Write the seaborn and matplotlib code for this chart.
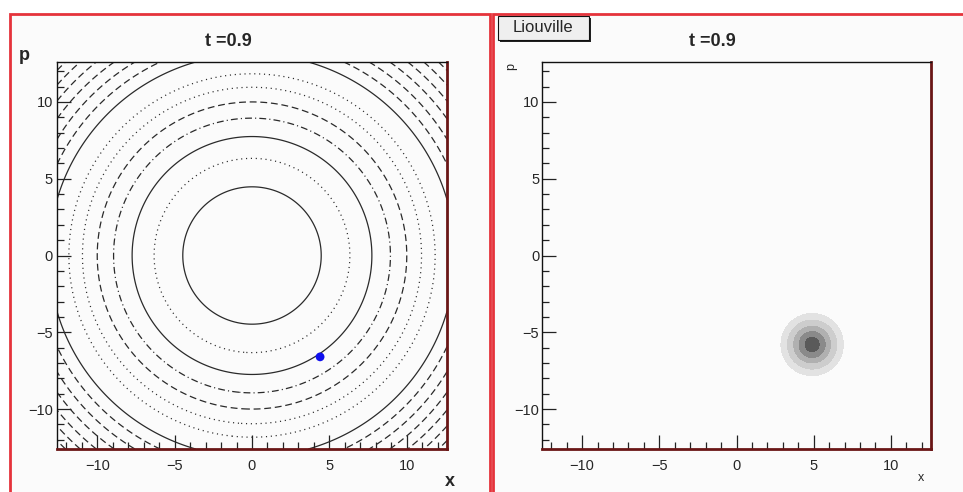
import numpy as np
import matplotlib
matplotlib.use("Agg")
import matplotlib.pyplot as plt
from matplotlib.patches import Rectangle
import seaborn as sns

sns.set_style("white")
plt.rcParams['font.family'] = ['Liberation Sans', 'DejaVu Sans']

# ---------------- data ----------------
title_text = "t =0.9"
xy_range = [-12.6, 12.6]
tick_values = [-10, -5, 0, 5, 10]
tick_labels = ["\u221210", "\u22125", "0", "5", "10"]

# energy levels H = (x^2 + p^2)/2 of the phase-space contours (left panel)
energy_levels = [10, 20, 30, 40, 50, 60, 70, 86, 97, 108, 119, 130, 141, 152]
level_styles = ["solid", "dot", "solid", "dashdot", "dash", "dot", "dot", "solid",
                "dash", "dash", "dash", "dash", "dash", "dash"]

# trajectory point (left) and Liouville density blob (right)
point_x = [4.4]
point_p = [-6.6]
blob_center = [4.9, -5.8]
blob_sigma = [1.0]
density_levels = [0.13, 0.28, 0.49, 0.70, 0.90, 1.01]
density_colors = ["#e2e2e2", "#cdcdcd", "#b0b0b0", "#8a8a8a", "#5a5a5a"]

# ---------------- figure ----------------
W, H = 963, 492
fig = plt.figure(figsize=(W / 100, H / 100), dpi=100)
fig.patch.set_facecolor("white")

def fx(px):
    return px / W

def fy(py):
    return 1 - py / H

pad_color = "#fbfbfb"
red = "#e5333b"
# pads
fig.add_artist(Rectangle((fx(10), fy(500)), fx(490 - 10), fy(14) - fy(500),
                         transform=fig.transFigure, fc=pad_color, ec=red, lw=2, zorder=-2))
fig.add_artist(Rectangle((fx(493), fy(500)), fx(980 - 493), fy(14) - fy(500),
                         transform=fig.transFigure, fc=pad_color, ec=red, lw=2, zorder=-2))

axL = fig.add_axes([fx(57), fy(449), fx(447 - 57), fy(62) - fy(449)])
axR = fig.add_axes([fx(542), fy(449), fx(931 - 542), fy(62) - fy(449)])

style_map = {
    "solid": "solid",
    "dot": (0, (0.9, 3.0)),
    "dash": (0, (5.5, 3.0)),
    "dashdot": (0, (5.5, 2.5, 0.9, 2.5)),
}

# left: energy contours
grid = np.linspace(xy_range[0], xy_range[1], 301)
X, P = np.meshgrid(grid, grid)
Hfield = 0.5 * (X ** 2 + P ** 2)
axL.contour(X, P, Hfield, levels=energy_levels, colors="#2a2a2a", linewidths=0.9,
            linestyles=[style_map[s] for s in level_styles])
sns.scatterplot(x=point_x, y=point_p, ax=axL, color="#1010ee", s=40,
                edgecolor="none", zorder=5, legend=False)

# right: Liouville density
dens = np.exp(-((X - blob_center[0]) ** 2 + (P - blob_center[1]) ** 2) / (2 * blob_sigma[0] ** 2))
axR.contourf(X, P, dens, levels=density_levels, colors=density_colors)

for ax, lab_pad in ((axL, 3), (axR, 2)):
    ax.set_facecolor(pad_color)
    ax.set_xlim(*xy_range)
    ax.set_ylim(*xy_range)
    ax.set_xticks(tick_values)
    ax.set_xticklabels(tick_labels)
    ax.set_yticks(tick_values)
    ax.set_yticklabels(tick_labels)
    ax.set_xticks(np.arange(-12, 13, 1), minor=True)
    ax.set_yticks(np.arange(-12, 13, 1), minor=True)
    ax.tick_params(which="major", direction="in", length=10, width=0.9, color="#222",
                   labelsize=10.5, bottom=True, left=True, top=False, right=False)
    ax.tick_params(which="minor", direction="in", length=5, width=0.9, color="#222",
                   bottom=True, left=True, top=False, right=False)
    ax.tick_params(axis="x", pad=7)
    ax.tick_params(axis="y", pad=lab_pad)
    for s in ("left", "top"):
        ax.spines[s].set_color("#111")
        ax.spines[s].set_linewidth(1.0)
    for s in ("right", "bottom"):
        ax.spines[s].set_color("#6a1616")
        ax.spines[s].set_linewidth(2.0)
    ax.set_xlabel("")
    ax.set_ylabel("")

# titles and axis labels
fig.text(fx(228), fy(42), title_text, ha="center", va="center", fontsize=13, fontweight="bold")
fig.text(fx(712), fy(42), title_text, ha="center", va="center", fontsize=13, fontweight="bold")
fig.text(fx(24), fy(55), "p", ha="center", va="center", fontsize=13, fontweight="bold")
fig.text(fx(450), fy(481), "x", ha="center", va="center", fontsize=13, fontweight="bold")
fig.text(fx(511), fy(66), "p", ha="center", va="center", fontsize=9, rotation=90)
fig.text(fx(921), fy(478), "x", ha="center", va="center", fontsize=9)

# Liouville label box with shadow
fig.add_artist(Rectangle((fx(500), fy(42)), fx(91), fy(16) - fy(40),
                         transform=fig.transFigure, fc="#222", ec="none", zorder=3))
fig.add_artist(Rectangle((fx(498), fy(40)), fx(91), fy(16) - fy(40),
                         transform=fig.transFigure, fc="#efefef", ec="#111", lw=0.8, zorder=4))
fig.text(fx(543), fy(28), "Liouville", ha="center", va="center", fontsize=12, zorder=5)

fig.savefig("out.png", dpi=100, facecolor="white")
